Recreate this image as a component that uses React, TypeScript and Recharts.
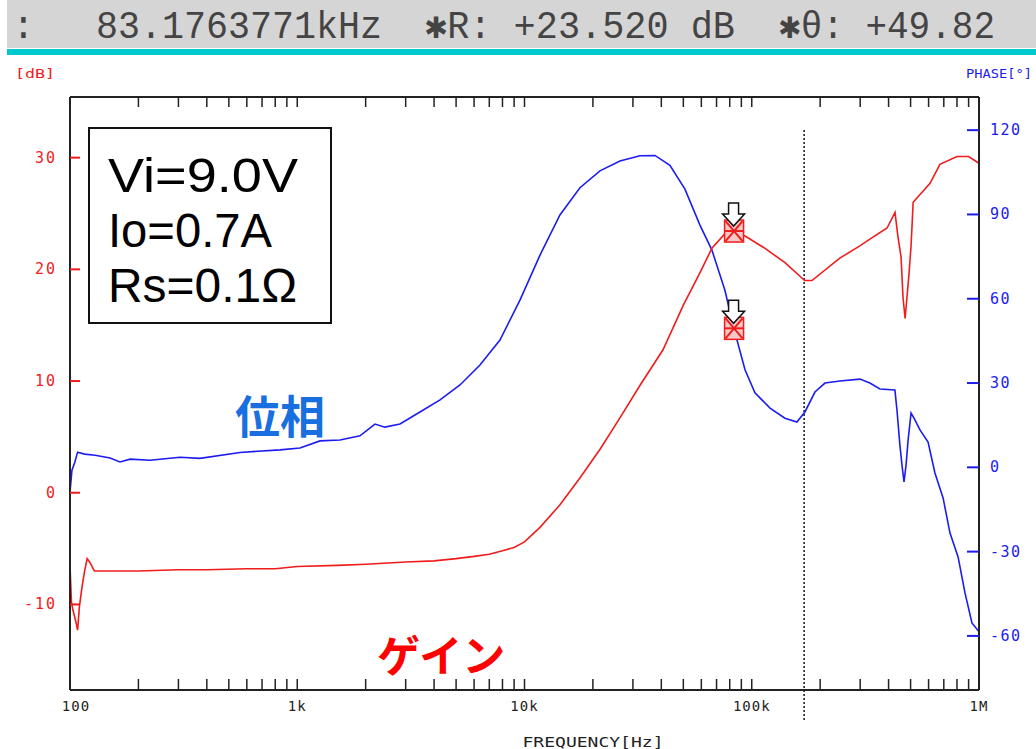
import { LineChart, Line, XAxis, YAxis, ReferenceLine, ReferenceDot } from "recharts";

// gain (red, left axis, dB)
const gainFreq = [
  100, 101.5, 103, 106, 108, 110, 113, 116, 119, 122, 128, 150, 200, 300, 400, 600, 800,
  1000, 1500, 2000, 3000, 4000, 5000, 6000, 7000, 8000, 9000, 10000, 11700, 14300, 17500,
  21500, 26300, 32200, 40700, 50000, 59200, 66800, 76200, 83176, 95000, 114000, 140000,
  171000, 184000, 244000, 299000, 331000, 394000, 427000, 440000, 454000, 463000, 473000,
  482000, 492000, 502000, 508000, 513000, 609000, 673000, 800000, 900000, 1000000,
];
const gainDb = [
  -6.5, -9.8, -10.5, -11.5, -12.3, -10.2, -8.4, -7.0, -5.9, -6.2, -7.0, -7.0, -7.0, -6.9, -6.9,
  -6.8, -6.8, -6.6, -6.5, -6.4, -6.2, -6.1, -5.9, -5.7, -5.5, -5.2, -4.9, -4.4, -3.1, -1.1, 1.3,
  3.9, 6.7, 9.6, 12.8, 16.8, 19.7, 21.9, 23.2, 23.52, 22.9, 21.9, 20.6,
  19.0, 19.0, 21.0, 22.1, 22.7, 23.7, 25.1, 22.9, 21.1, 17.5, 15.6,
  17.5, 19.6, 22.0, 24.1, 26.0, 27.7, 29.4, 30.1, 30.1, 29.5,
];

// phase (blue, right axis, deg)
const phaseFreq = [
  100, 102, 105, 108, 116, 129, 150, 166, 184, 225, 305, 373, 560, 840, 1028, 1259, 1542,
  1888, 2198, 2432, 2833, 3467, 4249, 5200, 6368, 7798, 9550, 11700, 14320, 17540, 21480,
  26300, 32210, 37500, 43650, 50820, 59160, 66800, 76200, 83176, 93400, 103300, 120300,
  140000, 158000, 171400, 189700, 210000, 244400, 299300, 331100, 366400, 426600, 435500,
  448700, 458200, 467800, 477500, 487500, 502300, 517500, 549900, 596800, 639900, 695000,
  745400, 809000, 867700, 931000, 1000000,
];
const phaseDeg = [
  -8.8, -1.0, 1.8, 5.4, 4.7, 4.3, 3.3, 1.9, 2.9, 2.5, 3.6, 3.2, 5.3, 6.2, 6.9, 9.4, 9.7,
  11.2, 15.4, 14.3, 15.4, 19.7, 24.0, 29.3, 36.4, 45.3, 59.5, 75.5, 89.8, 99.5, 105.5,
  109.0, 110.9, 111.0, 107.5, 99.0, 86.2, 77.3, 63.0, 49.82, 34.7, 26.5, 21.1,
  17.5, 16.1, 19.7, 26.8, 30.0, 30.7, 31.4, 30.0, 27.9, 27.5, 20.4,
  7.9, 0.8, -5.2, 0.8, 9.7, 19.3, 17.5, 13.3, 9.0, -2.0, -10.9,
  -23.4, -31.9, -44.7, -55.4, -58.5,
];

const markerFreq = 83176.3771;
const markerGain = 23.52;
const markerPhase = 49.82;
const cursorFreq = 170000;

const freqTicks = [
  100, 200, 300, 400, 500, 600, 700, 800, 900,
  1000, 2000, 3000, 4000, 5000, 6000, 7000, 8000, 9000,
  10000, 20000, 30000, 40000, 50000, 60000, 70000, 80000, 90000,
  100000, 200000, 300000, 400000, 500000, 600000, 700000, 800000, 900000,
  1000000,
];
const freqLabelValues = [100, 1000, 10000, 100000, 1000000];
const freqLabels = ["100", "1k", "10k", "100k", "1M"];
const dbTicks = [-10, 0, 10, 20, 30];
const phaseTicks = [-60, -30, 0, 30, 60, 90, 120];
const notes = ["Vi=9.0V", "Io=0.7A", "Rs=0.1Ω"];
const noteWidths = [190, 164, 189];

const gainData = gainFreq.map((f, i) => ({ f, v: gainDb[i] }));
const phaseData = phaseFreq.map((f, i) => ({ f, v: phaseDeg[i] }));

const RED = "#f01c1c";
const BLUE = "#1c1cf0";
const MONO = "'DejaVu Sans Mono', 'Liberation Mono', monospace";

function BottomTick({ x, y, payload }: any) {
  const idx = freqLabelValues.indexOf(payload.value);
  return (
    <g>
      <line x1={x} x2={x} y1={y} y2={y - 11} stroke="#222" strokeWidth={1.5} />
      {idx >= 0 && (
        <text x={x + (idx === 0 ? 6 : 0)} y={y + 21} textAnchor="middle" fontFamily={MONO} fontSize={14} fill="#222" letterSpacing={1}>
          {freqLabels[idx]}
        </text>
      )}
    </g>
  );
}

function TopTick({ x, y }: any) {
  return <line x1={x} x2={x} y1={y} y2={y + 10} stroke="#222" strokeWidth={1.5} />;
}

function LeftTick({ x, y, payload }: any) {
  return (
    <g>
      <line x1={x} x2={x + 10} y1={y} y2={y} stroke={RED} strokeWidth={2} />
      <text x={x - 13} y={y + 5} textAnchor="end" fontFamily={MONO} fontSize={15} fill={RED} letterSpacing={2}>
        {payload.value}
      </text>
    </g>
  );
}

function RightTick({ x, y, payload }: any) {
  return (
    <g>
      <line x1={x - 12} x2={x} y1={y} y2={y} stroke={BLUE} strokeWidth={2} />
      <text x={x + 11} y={y + 5} textAnchor="start" fontFamily={MONO} fontSize={15} fill={BLUE} letterSpacing={1.5}>
        {payload.value}
      </text>
    </g>
  );
}

function Marker({ cx, cy }: any) {
  if (cx == null || cy == null) return null;
  return (
    <g>
      <rect x={cx - 9} y={cy - 10} width={19} height={22} fill="#f8c8c8" stroke={RED} strokeWidth={1.5} />
      <line x1={cx - 8} y1={cy - 9} x2={cx + 9} y2={cy + 11} stroke={RED} strokeWidth={2} />
      <line x1={cx + 9} y1={cy - 9} x2={cx - 8} y2={cy + 11} stroke={RED} strokeWidth={2} />
      <line x1={cx - 9} y1={cy + 1} x2={cx + 10} y2={cy + 1} stroke={RED} strokeWidth={2} />
      <polygon
        points={`${cx - 5},${cy - 27} ${cx + 5},${cy - 27} ${cx + 5},${cy - 16} ${cx + 11},${cy - 16} ${cx},${cy - 4} ${cx - 11},${cy - 16} ${cx - 5},${cy - 16}`}
        fill="#fff"
        stroke="#111"
        strokeWidth={1.5}
      />
    </g>
  );
}

export default function App() {
  return (
    <div style={{ position: "absolute", left: 0, top: 0, width: 1036, height: 749, background: "#fff", overflow: "hidden" }}>
      <div style={{ position: "absolute", left: 0, top: 0 }}>
        <LineChart width={1036} height={749} margin={{ top: 96, right: 0, bottom: 0, left: 0 }}>
          <XAxis
            xAxisId="x"
            dataKey="f"
            type="number"
            scale="log"
            domain={[100, 1000000]}
            allowDataOverflow
            ticks={freqTicks}
            interval={0}
            height={59}
            tickSize={0}
            tickMargin={0}
            tickLine={false}
            axisLine={{ stroke: "#222", strokeWidth: 2 }}
            tick={<BottomTick />}
          />
          <XAxis
            xAxisId="top"
            orientation="top"
            dataKey="f"
            type="number"
            scale="log"
            domain={[100, 1000000]}
            allowDataOverflow
            ticks={freqTicks}
            interval={0}
            height={1}
            tickSize={0}
            tickMargin={0}
            tickLine={false}
            axisLine={{ stroke: "#222", strokeWidth: 2 }}
            tick={<TopTick />}
          />
          <YAxis
            yAxisId="left"
            type="number"
            domain={[-17.66, 35.43]}
            allowDataOverflow
            ticks={dbTicks}
            interval={0}
            width={70}
            tickSize={0}
            tickMargin={0}
            tickLine={false}
            axisLine={{ stroke: "#222", strokeWidth: 2 }}
            tick={<LeftTick />}
          />
          <YAxis
            yAxisId="right"
            orientation="right"
            type="number"
            domain={[-79.25, 131.8]}
            allowDataOverflow
            ticks={phaseTicks}
            interval={0}
            width={57}
            tickSize={0}
            tickMargin={0}
            tickLine={false}
            axisLine={{ stroke: "#222", strokeWidth: 2 }}
            tick={<RightTick />}
          />
          <ReferenceLine
            xAxisId="x"
            yAxisId="left"
            ifOverflow="visible"
            segment={[{ x: cursorFreq, y: 32.48 }, { x: cursorFreq, y: -20.5 }]}
            stroke="#111"
            strokeWidth={1.5}
            strokeDasharray="2 2"
          />
          <Line
            xAxisId="x"
            yAxisId="right"
            data={phaseData}
            dataKey="v"
            type="linear"
            stroke={BLUE}
            strokeWidth={1.6}
            dot={false}
            isAnimationActive={false}
          />
          <Line
            xAxisId="x"
            yAxisId="left"
            data={gainData}
            dataKey="v"
            type="linear"
            stroke={RED}
            strokeWidth={1.6}
            dot={false}
            isAnimationActive={false}
          />
          <ReferenceDot xAxisId="x" yAxisId="left" x={markerFreq} y={markerGain} shape={<Marker />} ifOverflow="visible" />
          <ReferenceDot xAxisId="x" yAxisId="right" x={markerFreq} y={markerPhase} shape={<Marker />} ifOverflow="visible" />
        </LineChart>
      </div>
      <svg width={1036} height={749} style={{ position: "absolute", left: 0, top: 0, pointerEvents: "none" }}>
        <rect x={7} y={0} width={1029} height={48} fill="#d5d5d5" />
        <rect x={7} y={49} width={1029} height={6} fill="#00c8cc" />
        <g fontFamily="'Liberation Mono', 'DejaVu Sans Mono', monospace" fontSize={38} fill="#444">
          <text x={12} y={38}>:</text>
          <text x={96} y={38} textLength={286} lengthAdjust="spacingAndGlyphs">83.1763771kHz</text>
          <text x={425} y={38} textLength={310} lengthAdjust="spacingAndGlyphs">✱R: +23.520 dB</text>
          <text x={779} y={38} textLength={216} lengthAdjust="spacingAndGlyphs">✱θ: +49.82</text>
        </g>
        <text x={15} y={78} fontFamily={MONO} fontSize={13} fill={RED} textLength={40} lengthAdjust="spacingAndGlyphs">[dB]</text>
        <text x={966} y={78} fontFamily={MONO} fontSize={13} fill={BLUE} textLength={66} lengthAdjust="spacingAndGlyphs">PHASE[°]</text>
        <text x={593} y={747} textAnchor="middle" fontFamily={MONO} fontSize={14} fill="#222" textLength={141} lengthAdjust="spacingAndGlyphs">FREQUENCY[Hz]</text>
        <rect x={89} y={128} width={242} height={195} fill="#fff" stroke="#111" strokeWidth={2} />
        <g fontFamily="'Liberation Sans', Arial, sans-serif" fontSize={48} fill="#000">
          {notes.map((n, i) => (
            <text key={n} x={108} y={192 + i * 55} textLength={noteWidths[i]} lengthAdjust="spacingAndGlyphs">{n}</text>
          ))}
        </g>
        <text x={235} y={434} fontFamily="'Noto Sans CJK JP', sans-serif" fontWeight={700} fontSize={45} fill="#1a6fe0">位相</text>
        <text x={377} y={672} fontFamily="'Noto Sans CJK JP', sans-serif" fontWeight={700} fontSize={43} fill="#ff0000">ゲイン</text>
      </svg>
    </div>
  );
}
